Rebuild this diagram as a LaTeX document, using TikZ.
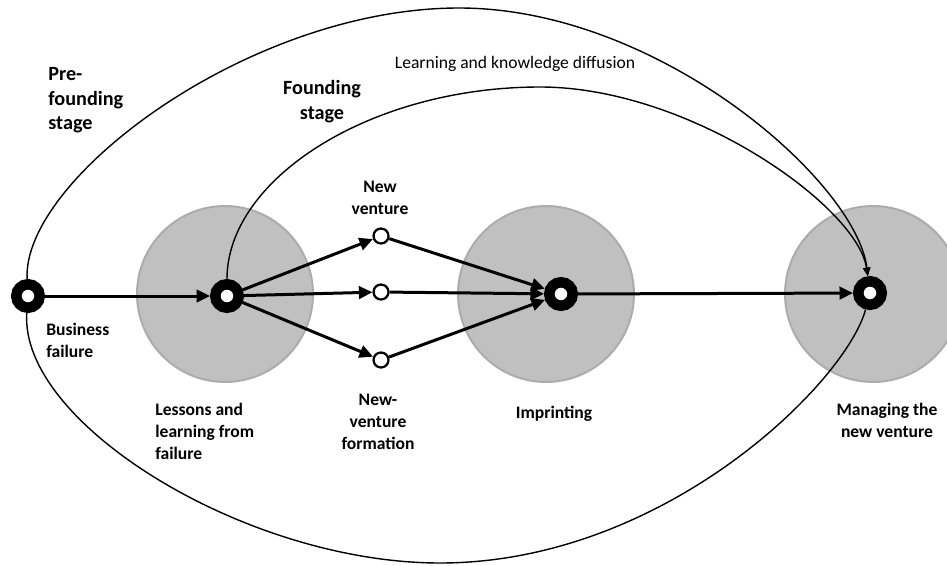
\documentclass[tikz,border=0pt]{standalone}
\usepackage{fontspec}
\setmainfont{Carlito}
\usetikzlibrary{arrows.meta}
\definecolor{zg}{RGB}{192,192,192}
\definecolor{ze}{RGB}{172,172,172}
\begin{document}
\begin{tikzpicture}[x=0.02cm,y=-0.02cm,
  zone/.style={circle, fill=zg, draw=ze, line width=0.04cm, minimum size=3.52cm, inner sep=0pt},
  ring/.style={circle, draw=black, fill=white, line width=0.21cm, minimum size=0.47cm, inner sep=0pt},
  dot/.style={circle, draw=black, fill=white, line width=0.045cm, minimum size=0.30cm, inner sep=0pt},
  flow/.style={draw, line width=0.06cm, -{Triangle[length=0.27cm,width=0.25cm]}},
  link/.style={draw, line width=0.028cm, -{Triangle[length=0.17cm,width=0.14cm]}},
  loop/.style={draw, line width=0.028cm},
  lbl/.style={font=\bfseries\fontsize{10}{12.5}\selectfont, inner sep=0pt},
  stg/.style={font=\bfseries\fontsize{11.5}{14}\selectfont, inner sep=0pt},
  note/.style={font=\fontsize{10}{12.5}\selectfont, inner sep=0pt}]
\useasboundingbox (0,0) rectangle (947,565);
\clip (0,0) rectangle (947,565);

% grey zones
\node[zone] (z1) at (225,294) {};
\node[zone] (z2) at (546,294) {};
\node[zone] (z3) at (873,294) {};

% main nodes
\node[ring] (bf) at (28,296) {};
\node[ring] (ls) at (227,296) {};
\node[ring] (im) at (561,294) {};
\node[ring] (mg) at (870,293) {};
\node[dot] (d1) at (381,236) {};
\node[dot] (d2) at (381,292) {};
\node[dot] (d3) at (381,360) {};

% apex points of the stage loops
\coordinate (otop) at (459,8);
\coordinate (itop) at (540,87);
\coordinate (obot) at (440,563);

% stage loops
\path[link] (bf) to[out=93,in=180,out distance=2.0cm,in distance=4.2cm] (otop)
  to[out=0,in=97,out distance=4.0cm,in distance=1.9cm] (mg);
\path[link] (ls) to[out=90,in=180,out distance=2.0cm,in distance=3.4cm] (itop)
  to[out=0,in=98,out distance=3.0cm,in distance=1.4cm] (mg);
\path[loop] (mg) to[out=-105,in=0,out distance=1.5cm,in distance=4.5cm] (obot)
  to[out=180,in=-94,out distance=3.9cm,in distance=2.2cm] (bf);

% flows
\path[flow] (bf) -- (ls);
\path[flow] (ls) -- (d1);
\path[flow] (ls) -- (d2);
\path[flow] (ls) -- (d3);
\path[flow] (d1) -- (im);
\path[flow] (d2) -- (im);
\path[flow] (d3) -- (im);
\path[flow] (im) -- (mg);

% labels
\node[lbl, anchor=north west, align=left] (t1) at (46,323) {Business\\failure};
\node[lbl, anchor=north west, align=left] (t2) at (155,403) {Lessons and\\learning from\\failure};
\node[lbl, anchor=north, align=center] (t3) at (380,181) {New\\venture};
\node[lbl, anchor=north, align=center] (t4) at (378,394) {New-\\venture\\formation};
\node[lbl, anchor=north, align=center] (t5) at (554,406) {Imprinting};
\node[lbl, anchor=north, align=center] (t6) at (887,403) {Managing the\\new venture};
\node[stg, anchor=north west, align=left] (t7) at (48,67) {Pre-\\founding\\stage};
\node[stg, anchor=north, align=center] (t8) at (322,80) {Founding\\stage};
\node[note, anchor=north] (t9) at (515,56) {Learning and knowledge diffusion};
\end{tikzpicture}
\end{document}
